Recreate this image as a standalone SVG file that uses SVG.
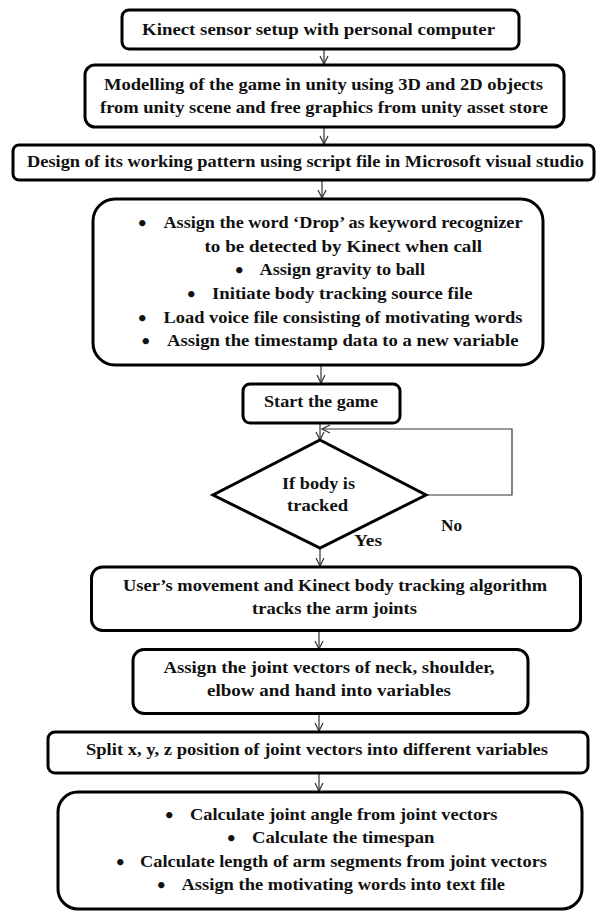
<svg xmlns="http://www.w3.org/2000/svg" width="599" height="911" viewBox="0 0 599 911">
<style>
.box{fill:#fff;stroke:#000;stroke-width:3}
.t{font-family:"Liberation Serif","Times New Roman",serif;font-weight:bold;font-size:16.5px;fill:#111}
.b{font-family:"DejaVu Sans",sans-serif;font-weight:bold;font-size:18px;fill:#111}
.c{fill:none;stroke:#333;stroke-width:1.2}
</style>
<defs>
<marker id="ah" markerWidth="10" markerHeight="10" refX="9" refY="5" orient="auto" markerUnits="userSpaceOnUse">
<path d="M1,1 L9,5 L1,9" fill="none" stroke="#333" stroke-width="1.2"/>
</marker>
</defs>
<rect width="599" height="911" fill="#fff"/>
<g id="connectors">
<line class="c" x1="324" y1="49" x2="324" y2="64" marker-end="url(#ah)"/>
<line class="c" x1="324" y1="127" x2="324" y2="144" marker-end="url(#ah)"/>
<line class="c" x1="322" y1="180" x2="322" y2="198" marker-end="url(#ah)"/>
<line class="c" x1="321" y1="365" x2="321" y2="383" marker-end="url(#ah)"/>
<line class="c" x1="320" y1="423" x2="320" y2="440" marker-end="url(#ah)"/>
<polyline class="c" points="426,495 512,495 512,429 322,429" marker-end="url(#ah)"/>
<line class="c" x1="320" y1="548" x2="320" y2="566" marker-end="url(#ah)"/>
<line class="c" x1="319" y1="631" x2="319" y2="649" marker-end="url(#ah)"/>
<line class="c" x1="319" y1="714" x2="319" y2="731" marker-end="url(#ah)"/>
<line class="c" x1="319" y1="774" x2="319" y2="791" marker-end="url(#ah)"/>
</g>
<g id="n1">
<rect class="box" x="122" y="10" width="397" height="39" rx="7"/>
<text class="t" x="142" y="35" textLength="353" lengthAdjust="spacingAndGlyphs">Kinect sensor setup with personal computer</text>
</g>
<g id="n2">
<rect class="box" x="85" y="65" width="479" height="62" rx="10"/>
<text class="t" x="104" y="90" textLength="439" lengthAdjust="spacingAndGlyphs">Modelling of the game in unity using 3D and 2D objects</text>
<text class="t" x="100" y="113" textLength="448" lengthAdjust="spacingAndGlyphs">from unity scene and free graphics from unity asset store</text>
</g>
<g id="n3">
<rect class="box" x="13" y="145" width="581" height="35" rx="6"/>
<text class="t" x="27" y="167" textLength="557" lengthAdjust="spacingAndGlyphs">Design of its working pattern using script file in Microsoft visual studio</text>
</g>
<g id="n4">
<rect class="box" x="93" y="199" width="450" height="166" rx="22"/>
<text class="b" x="136.5" y="230">•</text>
<text class="t" x="163.5" y="228" textLength="359" lengthAdjust="spacingAndGlyphs">Assign the word ‘Drop’ as keyword recognizer</text>
<text class="t" x="204.5" y="251.5" textLength="277.5" lengthAdjust="spacingAndGlyphs">to be detected by Kinect when call</text>
<text class="b" x="233.5" y="277">•</text>
<text class="t" x="259.5" y="275" textLength="165.5" lengthAdjust="spacingAndGlyphs">Assign gravity to ball</text>
<text class="b" x="185.5" y="301">•</text>
<text class="t" x="212" y="299" textLength="260.5" lengthAdjust="spacingAndGlyphs">Initiate body tracking source file</text>
<text class="b" x="136.5" y="324.5">•</text>
<text class="t" x="163.5" y="322.5" textLength="359" lengthAdjust="spacingAndGlyphs">Load voice file consisting of motivating words</text>
<text class="b" x="140" y="348">•</text>
<text class="t" x="167" y="346" textLength="351.5" lengthAdjust="spacingAndGlyphs">Assign the timestamp data to a new variable</text>
</g>
<g id="n5">
<rect class="box" x="243" y="384" width="157" height="39" rx="7"/>
<text class="t" x="264" y="407" textLength="114" lengthAdjust="spacingAndGlyphs">Start the game</text>
</g>
<g id="n6">
<polygon points="320,440 426,495 320,548 213,495" fill="#fff" stroke="#000" stroke-width="3" stroke-linejoin="miter"/>
<text class="t" x="282" y="489" textLength="73" lengthAdjust="spacingAndGlyphs">If body is</text>
<text class="t" x="287" y="511" textLength="61" lengthAdjust="spacingAndGlyphs">tracked</text>
</g>
<text class="t" x="441" y="531" textLength="21" lengthAdjust="spacingAndGlyphs">No</text>
<text class="t" x="354" y="546" textLength="28" lengthAdjust="spacingAndGlyphs">Yes</text>
<g id="n7">
<rect class="box" x="91.5" y="567" width="489" height="63.5" rx="11"/>
<text class="t" x="123" y="591" textLength="424" lengthAdjust="spacingAndGlyphs">User’s movement and Kinect body tracking algorithm</text>
<text class="t" x="252" y="614" textLength="165" lengthAdjust="spacingAndGlyphs">tracks the arm joints</text>
</g>
<g id="n8">
<rect class="box" x="133" y="649.5" width="395" height="64" rx="11"/>
<text class="t" x="163.5" y="672.5" textLength="331" lengthAdjust="spacingAndGlyphs">Assign the joint vectors of neck, shoulder,</text>
<text class="t" x="207" y="695.5" textLength="244" lengthAdjust="spacingAndGlyphs">elbow and hand into variables</text>
</g>
<g id="n9">
<rect class="box" x="48" y="732" width="540" height="41" rx="7"/>
<text class="t" x="86" y="755" textLength="462" lengthAdjust="spacingAndGlyphs">Split x, y, z position of joint vectors into different variables</text>
</g>
<g id="n10">
<rect class="box" x="58" y="792" width="524" height="117" rx="20"/>
<text class="b" x="163.5" y="822">•</text>
<text class="t" x="190" y="820" textLength="307.5" lengthAdjust="spacingAndGlyphs">Calculate joint angle from joint vectors</text>
<text class="b" x="225.5" y="845">•</text>
<text class="t" x="252" y="843" textLength="182.5" lengthAdjust="spacingAndGlyphs">Calculate the timespan</text>
<text class="b" x="114.5" y="869">•</text>
<text class="t" x="140" y="867" textLength="407" lengthAdjust="spacingAndGlyphs">Calculate length of arm segments from joint vectors</text>
<text class="b" x="155.5" y="892">•</text>
<text class="t" x="181.5" y="890" textLength="323.5" lengthAdjust="spacingAndGlyphs">Assign the motivating words into text file</text>
</g>
</svg>
